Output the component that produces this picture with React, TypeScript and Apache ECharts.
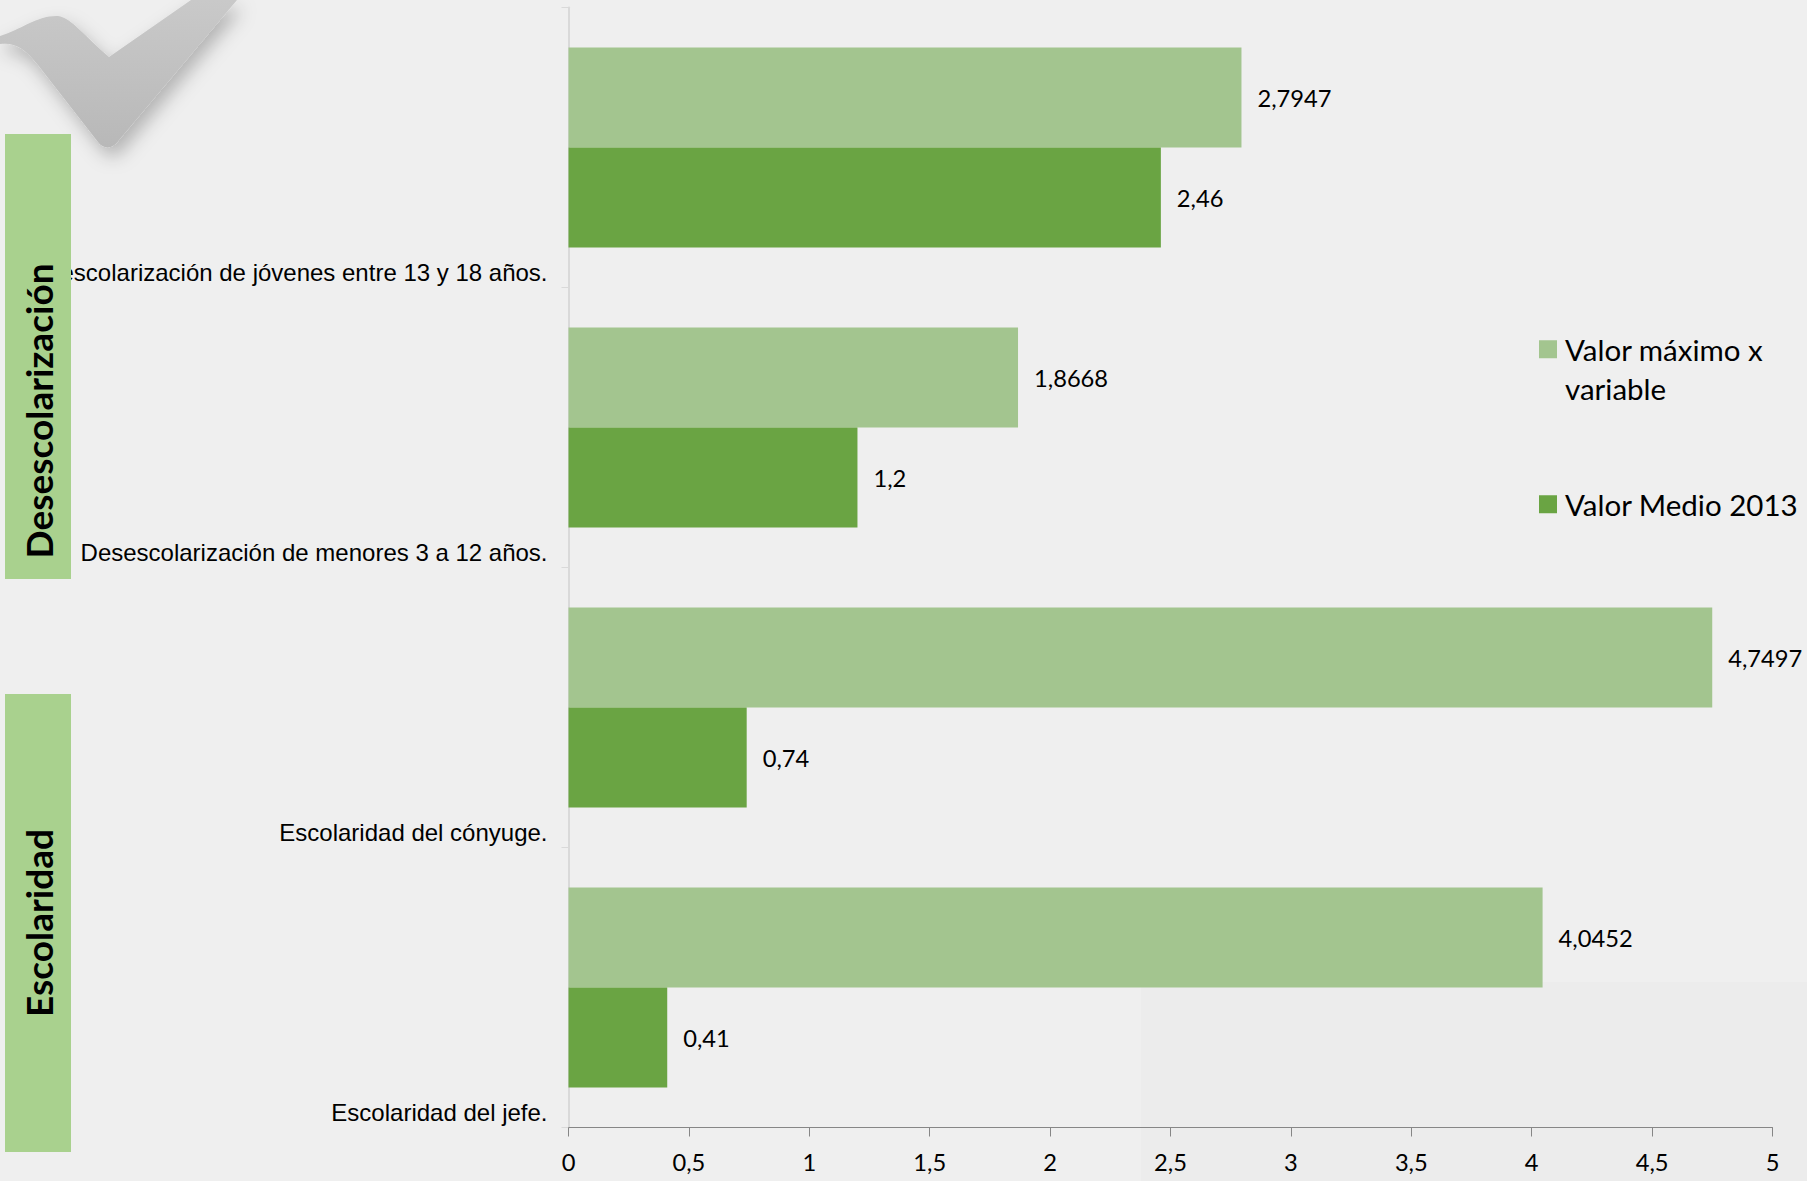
import React, { useEffect, useRef } from "react";
import * as echarts from "echarts";

const categories = [
  "Desescolarización de jóvenes entre 13 y 18 años.",
  "Desescolarización de menores 3 a 12 años.",
  "Escolaridad del cónyuge.",
  "Escolaridad del jefe.",
];
const maxName = "Valor máximo x\nvariable";
const meanName = "Valor Medio 2013";
const maxValues = [2.7947, 1.8668, 4.7497, 4.0452];
const meanValues = [2.46, 1.2, 0.74, 0.41];
const groupTop = "Desescolarización";
const groupBottom = "Escolaridad";

const CHECK =
  "M0 36 C20 30 38 15 58 16 C72 18 84 36 109 57 L191 0 L237 0 L119 140 C113 149 104 150 98 142 L38 65 C25 48 14 42 0 44 Z";
echarts.graphic.registerShape("checkmark", echarts.graphic.extendPath(CHECK, {}) as any);

const comma = (v: number) => String(v).replace(".", ",");
const labelFont = "Lato";

export default function App() {
  const ref = useRef<HTMLDivElement>(null);
  useEffect(() => {
    document.body.style.margin = "0";
    const chart = echarts.init(ref.current!, null, { renderer: "svg" });
    const dataLabel = {
      show: true,
      position: "right" as const,
      distance: 16,
      color: "#000",
      fontFamily: labelFont,
      fontSize: 23.7,
      formatter: (p: any) => comma(p.value),
    };
    chart.setOption({
      animation: false,
      backgroundColor: "#efefef",
      grid: { left: 568.5, right: 34.5, top: 7.5, bottom: 53.5, containLabel: false },
      legend: {
        orient: "vertical",
        left: 1534,
        top: 285,
        itemWidth: 18,
        itemHeight: 18,
        itemGap: 76,
        icon: "rect",
        selectedMode: false,
        data: [{ name: maxName }, { name: meanName }],
        formatter: (name: string) => (name === maxName ? "\n" + name : name),
        textStyle: {
          color: "#000",
          fontFamily: labelFont,
          fontSize: 29.5,
          lineHeight: 39.5,
          padding: [0, 0, 0, 3],
        },
      },
      xAxis: {
        type: "value",
        min: 0,
        max: 5,
        interval: 0.5,
        splitLine: { show: false },
        axisLine: { show: true, lineStyle: { color: "#868686", width: 1 } },
        axisTick: { show: true, length: 9, lineStyle: { color: "#868686" } },
        axisLabel: {
          color: "#000",
          fontFamily: labelFont,
          fontSize: 23.7,
          margin: 22,
          formatter: (v: number) => comma(v),
        },
      },
      yAxis: {
        type: "category",
        inverse: true,
        data: categories,
        axisLine: { show: true, lineStyle: { color: "#d9d9d9", width: 2 } },
        axisTick: { show: true, length: 7, lineStyle: { color: "#d9d9d9", width: 1 } },
        axisLabel: {
          color: "#000",
          fontFamily: "Liberation Sans",
          fontSize: 24,
          margin: 21,
          lineHeight: 28,
          verticalAlign: "top",
          padding: [111, 0, 0, 0],
          interval: 0,
        },
      },
      series: [
        {
          name: maxName,
          type: "bar",
          data: maxValues,
          barWidth: 100,
          barGap: "0%",
          itemStyle: { color: "#a3c58f" },
          label: dataLabel,
        },
        {
          name: meanName,
          type: "bar",
          data: meanValues,
          barWidth: 100,
          itemStyle: { color: "#6aa443" },
          label: dataLabel,
        },
      ],
      graphic: [
        { type: "rect", z: -10, silent: true, shape: { x: 1141, y: 982, width: 666, height: 199 }, style: { fill: "#ececec" } },
        {
          type: "checkmark",
          z: -5,
          silent: true,
          x: 0,
          y: 0,
          style: {
            fill: new echarts.graphic.LinearGradient(0, 0, 0, 1, [
              { offset: 0, color: "#c9c9c9" },
              { offset: 1, color: "#b8b8b8" },
            ]),
            shadowBlur: 18,
            shadowColor: "rgba(0,0,0,0.25)",
            shadowOffsetX: 5,
            shadowOffsetY: 9,
          },
        },
        { type: "rect", z: 100, silent: true, shape: { x: 5, y: 134, width: 66, height: 445 }, style: { fill: "#a9d18e" } },
        { type: "rect", z: 100, silent: true, shape: { x: 5, y: 694, width: 66, height: 458 }, style: { fill: "#a9d18e" } },
        {
          type: "text",
          z: 101,
          silent: true,
          x: 38,
          y: 411,
          rotation: Math.PI / 2,
          style: { text: groupTop, fill: "#000", font: "bold 37px Lato", align: "center", verticalAlign: "middle" },
        },
        {
          type: "text",
          z: 101,
          silent: true,
          x: 38,
          y: 923,
          rotation: Math.PI / 2,
          style: { text: groupBottom, fill: "#000", font: "bold 37px Lato", align: "center", verticalAlign: "middle" },
        },
      ],
    });
    return () => chart.dispose();
  }, []);
  return (
    <div
      ref={ref}
      style={{ position: "absolute", left: 0, top: 0, width: 1807, height: 1181, overflow: "hidden" }}
    />
  );
}
